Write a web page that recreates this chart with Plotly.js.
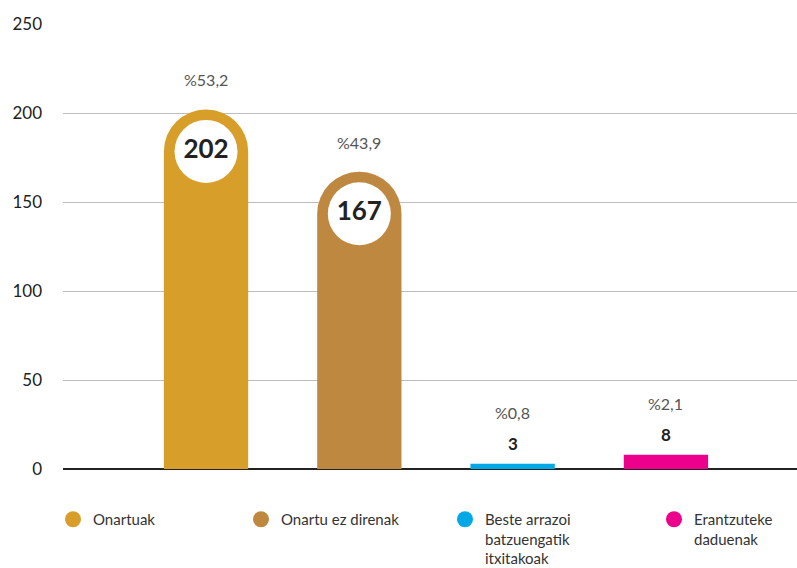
<!DOCTYPE html>
<html>
<head>
<meta charset="utf-8">
<script src="https://cdn.plot.ly/plotly-3.0.1.min.js"></script>
<style>
  html, body { margin: 0; padding: 0; background: #fff; }
  #chart { width: 797px; height: 568px; }
</style>
</head>
<body>
<div id="chart"></div>
<script>
// Data
var categories = ['Onartuak', 'Onartu ez direnak', 'Beste arrazoi<br>batzuengatik<br>itxitakoak', 'Erantzuteke<br>daduenak'];
var counts = [202, 167, 3, 8];
var percents = ['%53,2', '%43,9', '%0,8', '%2,1'];
var colors = ['#D79F2A', '#BE8841', '#00A9E6', '#EC008C'];
var yTicks = [0, 50, 100, 150, 200, 250];

var fontFam = 'Lato, "Open Sans", sans-serif';
var plotTop = 24, plotBottom = 99, plotH = 568 - plotTop - plotBottom;
var yMax = 250;
var unitsPerPx = yMax / plotH;
var barPx = 84;
// left edge (px) of each legend entry
var legendLeft = [53, 241, 445, 654];

var traces = [];
var annotations = [];
var legends = {};

categories.forEach(function (cat, i) {
    var big = counts[i] > 50;
    traces.push({
        type: 'bar',
        x: [cat],
        y: [counts[i]],
        width: 0.55,
        marker: {color: colors[i], cornerradius: big ? '50%' : 0},
        showlegend: false,
        hoverinfo: 'skip'
    });

    if (big) {
        // white circle with the count, sitting in the rounded cap
        traces.push({
            type: 'scatter',
            mode: 'markers+text',
            x: [cat],
            y: [counts[i] - (barPx / 2) * unitsPerPx],
            marker: {color: '#fff', size: 63, line: {width: 0}},
            text: ['<b>' + counts[i] + '</b>'],
            textposition: 'middle center',
            textfont: {family: fontFam, size: 26, color: '#222'},
            showlegend: false,
            hoverinfo: 'skip',
            cliponaxis: false
        });
        annotations.push({
            x: cat, y: counts[i], text: percents[i], showarrow: false,
            yanchor: 'bottom', yshift: 18,
            font: {family: fontFam, size: 16, color: '#555'}
        });
    } else {
        annotations.push({
            x: cat, y: counts[i], text: '<b>' + counts[i] + '</b>', showarrow: false,
            yanchor: 'bottom', yshift: 8,
            font: {family: fontFam, size: 17, color: '#222'}
        });
        annotations.push({
            x: cat, y: counts[i], text: percents[i], showarrow: false,
            yanchor: 'bottom', yshift: 40,
            font: {family: fontFam, size: 16, color: '#555'}
        });
    }

    // legend entry with a round swatch, each in its own legend box
    var lg = i === 0 ? 'legend' : 'legend' + (i + 1);
    traces.push({
        type: 'scatter',
        mode: 'markers',
        x: [null], y: [null],
        name: cat,
        legend: lg,
        marker: {color: colors[i], size: 18, symbol: 'circle'},
        showlegend: true,
        hoverinfo: 'skip'
    });
    legends[lg] = {
        orientation: 'h',
        xref: 'container', yref: 'container',
        x: legendLeft[i] / 797, y: 1 - 503 / 568,
        xanchor: 'left', yanchor: 'top',
        valign: 'top',
        itemsizing: 'trace',
        font: {family: fontFam, size: 15, color: '#333'},
        bgcolor: 'rgba(0,0,0,0)'
    };
});

var layout = {
    width: 797,
    height: 568,
    margin: {l: 63, r: 0, t: plotTop, b: plotBottom},
    paper_bgcolor: '#fff',
    plot_bgcolor: '#fff',
    barmode: 'overlay',
    font: {family: fontFam, color: '#222'},
    xaxis: {
        type: 'category',
        categoryarray: categories,
        range: [-0.933, 3.855],
        showticklabels: false,
        showgrid: false,
        zeroline: false,
        showline: false,
        fixedrange: true
    },
    yaxis: {
        range: [0, yMax],
        tickvals: yTicks,
        ticks: '',
        ticklabelstandoff: 20,
        tickfont: {family: fontFam, size: 17, color: '#222'},
        showgrid: true,
        gridcolor: '#bdbdbd',
        gridwidth: 1,
        zeroline: true,
        zerolinecolor: '#222',
        zerolinewidth: 2,
        showline: false,
        fixedrange: true
    },
    annotations: annotations,
    showlegend: true
};
Object.keys(legends).forEach(function (k) { layout[k] = legends[k]; });

Plotly.newPlot('chart', traces, layout, {displayModeBar: false, staticPlot: true});
</script>
</body>
</html>
